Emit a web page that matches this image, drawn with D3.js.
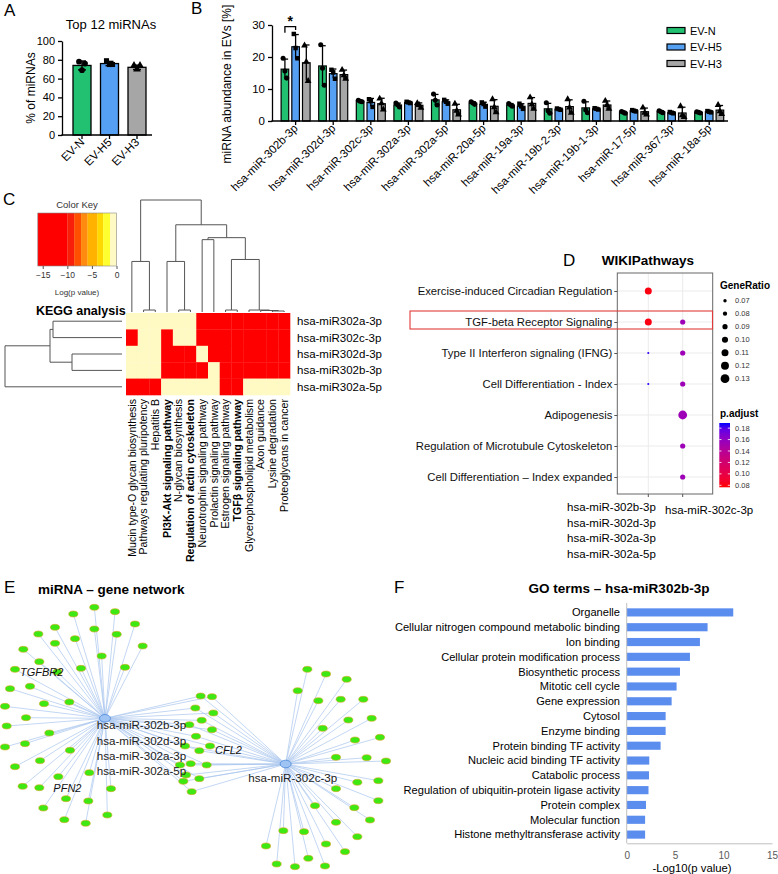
<!DOCTYPE html>
<html><head><meta charset="utf-8">
<script src="https://cdn.jsdelivr.net/npm/d3@7"></script>
<style>body{margin:0;background:#fff}svg{display:block}</style>
</head><body>
<script>
// ---------------- DATA ----------------
// Panel A
const groupsA = ["EV-N", "EV-H5", "EV-H3"];
const meansA = [74, 76, 72];
const pointsA = [[78, 69, 76], [79, 75, 75], [74, 70, 74]];
const yTicksA = [0, 20, 40, 60, 80, 100];

// Panel B
const mirnasB = ["hsa-miR-302b-3p","hsa-miR-302d-3p","hsa-miR-302c-3p","hsa-miR-302a-3p","hsa-miR-302a-5p","hsa-miR-20a-5p","hsa-miR-19a-3p","hsa-miR-19b-2-3p","hsa-miR-19b-1-3p","hsa-miR-17-5p","hsa-miR-367-3p","hsa-miR-18a-5p"];
const seriesB = ["EV-N", "EV-H5", "EV-H3"];
const meanN  = [16.2, 17.2, 6.2, 5.0, 6.6, 5.6, 5.0, 3.8, 4.1, 2.7, 2.9, 2.7];
const meanH5 = [23.2, 14.8, 5.8, 5.8, 6.0, 5.2, 4.6, 3.7, 3.8, 3.2, 2.6, 2.9];
const meanH3 = [18.2, 14.5, 5.4, 4.9, 3.5, 4.6, 5.5, 4.5, 5.0, 2.9, 2.5, 3.4];
const ptsN  = [[19.6,15.6,13.4],[23.8,16.5,11.2],[6.5,6.2,6.0],[5.6,5.0,4.4],[8.4,6.5,5.0],[6.0,5.6,5.2],[5.5,5.0,4.6],[5.7,3.2,2.4],[6.2,3.4,2.6],[3.0,2.7,2.4],[3.2,2.9,2.6],[2.9,2.7,2.5]];
const ptsH5 = [[27.2,22.8,19.6],[16.0,15.2,13.2],[6.8,6.2,4.4],[6.0,5.8,5.6],[6.6,6.0,5.4],[5.8,5.3,4.5],[5.4,4.6,3.8],[3.9,3.7,3.5],[4.0,3.8,3.6],[3.4,3.2,3.0],[2.8,2.6,2.4],[3.1,2.9,2.7]];
const ptsH3 = [[23.6,18.5,12.5],[16.0,14.3,13.2],[7.0,5.5,3.6],[5.6,5.0,4.1],[5.4,3.2,2.0],[6.8,4.3,2.7],[7.4,5.2,3.8],[6.8,4.2,2.6],[6.3,5.0,3.8],[4.2,2.6,2.0],[4.6,1.8,1.2],[5.0,3.0,2.2]];
const yTicksB = [0, 10, 20, 30];

// Panel C
const keggTerms = ["Mucin type-O glycan biosynthesis","Pathways regulating pluripotency","Hepatitis B","PI3K-Akt signaling pathway","N-glycan biosynthesis","Regulation of actin cytoskeleton","Neurotrophin signaling pathway","Prolactin signaling pathway","Estrogen signaling pathway","TGFβ signaling pathway","Glycerophospholipid metabolism","Axon guidance","Lysine degradation","Proteoglycans in cancer"];
const keggRows = ["hsa-miR302a-3p","hsa-miR302c-3p","hsa-miR302d-3p","hsa-miR302b-3p","hsa-miR302a-5p"];
const keggLogP = [
  [0,0,0,0,0,0,-14,-14,-14,-14,-14,-14,-14,-14],
  [-14,0,0,-14,0,0,-14,-14,-14,-14,-14,-14,-14,-14],
  [0,0,0,-14,-14,-14,0,-14,-14,-14,-14,-14,-14,-14],
  [0,0,0,-14,-14,-14,-14,0,-14,-14,-14,-14,-14,-14],
  [-14,-14,-14,0,0,0,0,0,-14,-14,0,0,0,0]
];
const keyBreaks = [-10, -8.6, -7.2, -5.9, -3.9, -2.7, -1.3];
const keyColors = ["#ff0000","#f8200a","#ff5000","#ff8a10","#ffb300","#ffd800","#ffff30","#fff9c4"];
const keyTicks = [-15, -10, -5, 0];
// dendrograms: [left child, right child, merge height]; leaves are 0..n-1, new nodes numbered after
const colMerges = [[1,2,2],[0,14,51],[4,5,2],[3,16,51],[8,9,2],[12,13,1],[11,19,1.5],[10,20,2],[18,21,53],[6,7,73],[23,22,75],[17,24,88],[15,25,113]];
const rowMerges = [[0,1,69],[2,3,50],[5,6,72],[7,4,117]];

// Panel D
const wikiPathways = ["Exercise-induced Circadian Regulation","TGF-beta Receptor Signaling","Type II Interferon signaling (IFNG)","Cell Differentiation - Index","Adipogenesis","Regulation of Microtubule Cytoskeleton","Cell Differentiation – Index expanded"];
const wikiGroups = ["hsa-miR-302b-3p|hsa-miR-302d-3p|hsa-miR-302a-3p|hsa-miR-302a-5p", "hsa-miR-302c-3p"];
const dotPath  = [0, 1, 1, 2, 2, 3, 3, 4, 5, 6];
const dotGroup = [0, 0, 1, 0, 1, 0, 1, 1, 1, 1];
const dotRatio = [0.11, 0.11, 0.09, 0.055, 0.09, 0.055, 0.09, 0.13, 0.09, 0.09];
const dotPadj  = [0.08, 0.08, 0.155, 0.186, 0.155, 0.186, 0.155, 0.155, 0.155, 0.155];
const ratioLegend = [0.07, 0.08, 0.09, 0.10, 0.11, 0.12, 0.13];
const padjTicks = [0.08, 0.10, 0.12, 0.14, 0.16, 0.18];

// Panel E (layout coordinates of the drawn network)
const netHubs = [
  {name:"hsa-miR-302b-3p|hsa-miR-302d-3p|hsa-miR-302a-3p|hsa-miR-302a-5p", x:315, y:385},
  {name:"hsa-miR-302c-3p", x:857, y:522}
];
const netGenes = [
  [283,52,"a"],[345,65,"a"],[220,72,"a"],[405,102,"a"],[283,117,"a"],[165,112,"a"],[350,133,"a"],[115,132,"a"],[225,146,"a"],[428,168,"a"],[165,160,"a"],[70,178,"a"],[305,198,"a"],[118,215,"a"],[375,232,"a"],[243,235,"a"],[45,238,"a"],[172,246,"a"],[30,296,"a"],[90,289,"a"],[208,336,"a"],[132,341,"a"],[15,349,"a"],[78,383,"a"],[20,408,"a"],[148,429,"a"],[75,461,"a"],[15,471,"a"],[210,481,"a"],[120,512,"a"],[45,530,"a"],[268,548,"a"],[175,560,"a"],[68,589,"a"],[118,593,"a"],[333,596,"a"],[198,626,"a"],[265,633,"a"],[130,654,"a"],[322,675,"a"],[193,689,"a"],[257,700,"a"],
  [602,318,"ab"],[636,320,"ab"],[586,354,"ab"],[640,369,"ab"],[605,391,"ab"],[568,404,"ab"],[636,419,"ab"],[588,439,"ab"],[555,468,"ab"],[630,468,"ab"],[598,482,"ab"],[540,525,"ab"],[572,521,"ab"],[620,525,"ab"],[558,555,"ab"],[598,566,"ab"],[550,574,"ab"],[575,605,"ab"],
  [922,238,"b"],[978,252,"b"],[1040,268,"b"],[893,302,"b"],[955,332,"b"],[1022,328,"b"],[1090,328,"b"],[1045,390,"b"],[1115,385,"b"],[968,415,"b"],[1140,442,"b"],[1065,450,"b"],[1008,502,"b"],[1100,503,"b"],[1158,513,"b"],[1072,577,"b"],[1135,572,"b"],[1008,596,"b"],[1135,632,"b"],[945,647,"b"],[1063,653,"b"],[1110,690,"b"],[1008,697,"b"],[850,722,"b"],[912,725,"b"],[1072,740,"b"],[978,762,"b"],[798,768,"b"],[1035,785,"b"],[925,805,"b"],[830,822,"b"],[885,830,"b"],[975,828,"b"]
];
const netGeneLabels = [{name:"TGFBR2", x:60, y:245},{name:"PFN2", x:160, y:595},{name:"CFL2", x:645, y:480}];

// Panel F
const goTerms = ["Organelle","Cellular nitrogen compound metabolic binding","Ion binding","Cellular protein modification process","Biosynthetic process","Mitotic cell cycle","Gene expression","Cytosol","Enzyme binding","Protein binding TF activity","Nucleic acid binding TF activity","Catabolic process","Regulation of ubiquitin-protein ligase activity","Protein complex","Molecular function","Histone methyltransferase activity"];
const goValues = [11.0, 8.35, 7.56, 6.53, 5.5, 5.15, 4.64, 4.02, 4.02, 3.5, 2.33, 2.3, 2.25, 1.99, 1.9, 1.9];
const goTicks = [0, 5, 10, 15];

// ---------------- DRAWING ----------------
const FONT = "'Liberation Sans', Arial, sans-serif";
const COLORS = ["#22c172", "#56a0f4", "#a6a6a6"];
const svg = d3.select("body").append("svg").attr("width", 778).attr("height", 874)
  .style("font-family", FONT);

function letter(t, x, y){ svg.append("text").attr("x",x).attr("y",y).attr("font-size",17).text(t); }
letter("A", 4, 16); letter("B", 191, 14); letter("C", 3, 205); letter("D", 563, 266); letter("E", 4, 593); letter("F", 394, 593);

function styleAxis(g, fs){
  g.selectAll("path,line").attr("stroke","#000").attr("stroke-width",1.3);
  g.selectAll("text").attr("font-size",fs).attr("fill","#000").attr("font-family",FONT);
}

// ----- Panel A -----
(function(){
  const g = svg.append("g");
  const x = d3.scalePoint().domain(groupsA).range([82, 137]);
  const y = d3.scaleLinear().domain([0, 100]).range([135, 41]);
  const bw = 18;
  g.append("text").attr("x", 111).attr("y", 29).attr("text-anchor","middle").attr("font-size",13).text("Top 12 miRNAs");
  g.selectAll("rect.bar").data(groupsA).join("rect")
    .attr("x", d => x(d) - bw/2).attr("y", (d,i) => y(meansA[i]))
    .attr("width", bw).attr("height", (d,i) => y(0) - y(meansA[i]))
    .attr("fill", (d,i) => COLORS[i]).attr("stroke", "#000").attr("stroke-width", 1.3);
  groupsA.forEach((d,i) => {
    const sd = d3.deviation(pointsA[i]);
    const cx = x(d);
    g.append("line").attr("x1",cx).attr("x2",cx).attr("y1",y(meansA[i]-sd)).attr("y2",y(meansA[i]+sd)).attr("stroke","#000").attr("stroke-width",1.4);
    g.append("line").attr("x1",cx-4).attr("x2",cx+4).attr("y1",y(meansA[i]+sd)).attr("y2",y(meansA[i]+sd)).attr("stroke","#000").attr("stroke-width",1.4);
    g.append("line").attr("x1",cx-4).attr("x2",cx+4).attr("y1",y(meansA[i]-sd)).attr("y2",y(meansA[i]-sd)).attr("stroke","#000").attr("stroke-width",1.4);
    const sym = [d3.symbolCircle, d3.symbolSquare, d3.symbolTriangle][i];
    pointsA[i].forEach((v,j) => {
      g.append("path").attr("d", d3.symbol().type(sym).size(26)())
        .attr("transform", `translate(${cx + (j-1)*3},${y(v)})`).attr("fill","#000");
    });
  });
  const ax = g.append("g").attr("transform","translate(62,0)")
    .call(d3.axisLeft(y).tickValues(yTicksA).tickSize(4).tickSizeOuter(0));
  styleAxis(ax, 11);
  g.append("line").attr("x1",61.4).attr("x2",152).attr("y1",y(0)).attr("y2",y(0)).attr("stroke","#000").attr("stroke-width",1.3);
  groupsA.forEach(d => {
    g.append("line").attr("x1",x(d)).attr("x2",x(d)).attr("y1",y(0)).attr("y2",y(0)+4).attr("stroke","#000").attr("stroke-width",1.3);
    g.append("text").attr("transform",`translate(${x(d)+3},${y(0)+8}) rotate(-45)`).attr("text-anchor","end")
      .attr("font-size",11.5).text(d);
  });
  g.append("text").attr("transform","translate(35,88) rotate(-90)").attr("text-anchor","middle").attr("font-size",12).text("% of miRNAs");
})();

// ----- Panel B -----
(function(){
  const g = svg.append("g");
  const x = d3.scaleBand().domain(mirnasB).range([272, 728]).paddingOuter(0.064).align(1);
  const sub = d3.scalePoint().domain(seriesB).range([-10.7, 10.7]);
  const y = d3.scaleLinear().domain([0, 30]).range([121, 25]);
  const bw = 7.6;
  const means = [meanN, meanH5, meanH3], pts = [ptsN, ptsH5, ptsH3];
  const syms = [d3.symbolCircle, d3.symbolSquare, d3.symbolTriangle];
  seriesB.forEach((s, k) => {
    mirnasB.forEach((m, i) => {
      const cx = x(m) + x.bandwidth()/2 + sub(s);
      const mv = means[k][i];
      g.append("rect").attr("x", cx - bw/2).attr("y", y(mv)).attr("width", bw).attr("height", y(0) - y(mv))
        .attr("fill", COLORS[k]).attr("stroke","#000").attr("stroke-width",1.2);
    });
  });
  seriesB.forEach((s, k) => {
    mirnasB.forEach((m, i) => {
      const cx = x(m) + x.bandwidth()/2 + sub(s);
      const mv = means[k][i];
      const sd = d3.deviation(pts[k][i]);
      g.append("line").attr("x1",cx).attr("x2",cx).attr("y1",y(Math.max(0,mv-sd))).attr("y2",y(mv+sd)).attr("stroke","#000").attr("stroke-width",1.3);
      g.append("line").attr("x1",cx-3.2).attr("x2",cx+3.2).attr("y1",y(mv+sd)).attr("y2",y(mv+sd)).attr("stroke","#000").attr("stroke-width",1.3);
      pts[k][i].forEach((v, j) => {
        g.append("path").attr("d", d3.symbol().type(syms[k]).size(20)())
          .attr("transform", `translate(${cx + (j-1)*1.8},${y(v)})`).attr("fill","#000");
      });
    });
  });
  const ax = g.append("g").attr("transform","translate(272,0)")
    .call(d3.axisLeft(y).tickValues(yTicksB).tickSize(4).tickSizeOuter(0));
  styleAxis(ax, 11.5);
  g.append("line").attr("x1",271.4).attr("x2",728).attr("y1",y(0)).attr("y2",y(0)).attr("stroke","#000").attr("stroke-width",1.3);
  mirnasB.forEach(m => {
    const cx = x(m) + x.bandwidth()/2;
    g.append("line").attr("x1",cx).attr("x2",cx).attr("y1",y(0)).attr("y2",y(0)+4).attr("stroke","#000").attr("stroke-width",1.3);
    g.append("text").attr("transform",`translate(${cx+3},${y(0)+8}) rotate(-45)`).attr("text-anchor","end")
      .attr("font-size",11.5).text(m);
  });
  g.append("text").attr("transform","translate(231,84) rotate(-90)").attr("text-anchor","middle").attr("font-size",12).text("miRNA abundance in EVs [%]");
  // significance bracket
  const c0 = x(mirnasB[0]) + x.bandwidth()/2;
  const xa = c0 + sub("EV-N"), xb = c0 + sub("EV-H5");
  g.append("path").attr("d", `M${xa},${y(27.6)}V${y(29.5)}H${xb}V${y(28.4)}`).attr("fill","none").attr("stroke","#000").attr("stroke-width",1.3);
  g.append("text").attr("x",(xa+xb)/2).attr("y",y(29.5)-1).attr("text-anchor","middle").attr("font-size",14).attr("font-weight","bold").text("*");
  // legend
  seriesB.forEach((s,k) => {
    const ly = 27.5 + k*16.5;
    g.append("rect").attr("x",667).attr("y",ly).attr("width",18).attr("height",6).attr("fill",COLORS[k]).attr("stroke","#000").attr("stroke-width",1.2);
    g.append("text").attr("x",690).attr("y",ly+7).attr("font-size",11).text(s);
  });
})();

// ----- Panel C -----
(function(){
  const g = svg.append("g");
  const x = d3.scaleBand().domain(keggTerms).range([126, 290]);
  const y = d3.scaleBand().domain(keggRows).range([313, 395]);
  const color = d3.scaleThreshold().domain(keyBreaks).range(keyColors);
  keggRows.forEach((r, i) => {
    keggTerms.forEach((t, j) => {
      g.append("rect").attr("x", x(t)).attr("y", y(r)).attr("width", x.bandwidth()+0.3).attr("height", y.bandwidth()+0.3)
        .attr("fill", color(keggLogP[i][j]));
    });
    g.append("text").attr("x", 297).attr("y", y(r) + y.bandwidth()/2).attr("dy","0.35em").attr("font-size",11.5).text(r);
  });
  const boldTerms = new Set(["PI3K-Akt signaling pathway","Regulation of actin cytoskeleton","TGFβ signaling pathway"]);
  keggTerms.forEach(t => {
    g.append("text").attr("transform", `translate(${x(t)+x.bandwidth()/2},399) rotate(-90)`)
      .attr("text-anchor","end").attr("dy","0.35em").attr("font-size",10.6)
      .attr("font-weight", boldTerms.has(t) ? "bold" : "normal").text(t);
  });
  // column dendrogram
  const colX = d3.scaleLinear().domain([0, keggTerms.length-1]).range([x(keggTerms[0])+x.bandwidth()/2, x(keggTerms[keggTerms.length-1])+x.bandwidth()/2]);
  const colH = d3.scaleLinear().domain([0, 113]).range([312, 200]);
  const cpos = keggTerms.map((d,i) => ({p:i, h:0}));
  colMerges.forEach(([a,b,h]) => {
    const A = cpos[a], B = cpos[b];
    g.append("path").attr("d", `M${colX(A.p)},${colH(A.h)}V${colH(h)}H${colX(B.p)}V${colH(B.h)}`)
      .attr("fill","none").attr("stroke","#555").attr("stroke-width",1);
    cpos.push({p:(A.p+B.p)/2, h});
  });
  // row dendrogram
  const rowY = d3.scaleLinear().domain([0, keggRows.length-1]).range([y(keggRows[0])+y.bandwidth()/2, y(keggRows[keggRows.length-1])+y.bandwidth()/2]);
  const rowH = d3.scaleLinear().domain([0, 117]).range([122, 5]);
  const rpos = keggRows.map((d,i) => ({p:i, h:0}));
  rowMerges.forEach(([a,b,h]) => {
    const A = rpos[a], B = rpos[b];
    g.append("path").attr("d", `M${rowH(A.h)},${rowY(A.p)}H${rowH(h)}V${rowY(B.p)}H${rowH(B.h)}`)
      .attr("fill","none").attr("stroke","#555").attr("stroke-width",1);
    rpos.push({p:(A.p+B.p)/2, h});
  });
  // color key
  const kx = d3.scaleLinear().domain([-16, 0]).range([37.8, 116.5]);
  const edges = [-16, ...keyBreaks, 0];
  keyColors.forEach((c, i) => {
    g.append("rect").attr("x", kx(edges[i])).attr("y", 213).attr("width", kx(edges[i+1]) - kx(edges[i]) + 0.2).attr("height", 53).attr("fill", c);
  });
  g.append("rect").attr("x",kx(-16)).attr("y",213).attr("width",kx(0)-kx(-16)).attr("height",53).attr("fill","none").attr("stroke","#888").attr("stroke-width",0.6);
  const kax = g.append("g").attr("transform","translate(0,266)").call(d3.axisBottom(kx).tickValues(keyTicks).tickSize(3).tickSizeOuter(0));
  kax.select(".domain").remove();
  kax.selectAll("line").attr("stroke","#555");
  kax.selectAll("text").attr("font-size",8.5).attr("fill","#333").attr("font-family",FONT);
  g.append("text").attr("x",77).attr("y",208).attr("text-anchor","middle").attr("font-size",9.5).attr("fill","#333").text("Color Key");
  g.append("text").attr("x",77).attr("y",295).attr("text-anchor","middle").attr("font-size",8).attr("fill","#333").text("Log(p value)");
  g.append("text").attr("x",36).attr("y",315).attr("font-size",12.5).attr("font-weight","bold").text("KEGG analysis");
})();

// ----- Panel D -----
(function(){
  const g = svg.append("g");
  const y = d3.scalePoint().domain(wikiPathways).range([291, 477]);
  const x = d3.scalePoint().domain(wikiGroups).range([648.3, 682.7]);
  const r = d3.scaleLinear().domain([0.07, 0.13]).range([1.7, 4.4]);
  const col = d3.scaleLinear().domain([0.0765, 0.189]).range(["#ff0000", "#0000ff"]).interpolate(d3.interpolateLab);
  const px0 = 617.3, px1 = 712.7, py0 = 273, py1 = 494;
  g.append("text").attr("x",648).attr("y",265).attr("text-anchor","middle").attr("font-size",13.5).attr("font-weight","bold").text("WIKIPathways");
  g.append("rect").attr("x",px0).attr("y",py0).attr("width",px1-px0).attr("height",py1-py0).attr("fill","#fff");
  wikiPathways.forEach(p => g.append("line").attr("x1",px0).attr("x2",px1).attr("y1",y(p)).attr("y2",y(p)).attr("stroke","#ebebeb").attr("stroke-width",1));
  wikiGroups.forEach(c => g.append("line").attr("x1",x(c)).attr("x2",x(c)).attr("y1",py0).attr("y2",py1).attr("stroke","#ebebeb").attr("stroke-width",1));
  g.append("rect").attr("x",px0).attr("y",py0).attr("width",px1-px0).attr("height",py1-py0).attr("fill","none").attr("stroke","#666").attr("stroke-width",1);
  dotPath.forEach((pi, i) => {
    g.append("circle").attr("cx", x(wikiGroups[dotGroup[i]])).attr("cy", y(wikiPathways[pi]))
      .attr("r", r(dotRatio[i])).attr("fill", col(dotPadj[i]));
  });
  const ay = g.append("g").attr("transform",`translate(${px0},0)`).call(d3.axisLeft(y).tickSize(3).tickPadding(2));
  ay.select(".domain").remove();
  ay.selectAll("line").attr("stroke","#555");
  ay.selectAll("text").attr("font-size",11.3).attr("fill","#111").attr("font-family",FONT);
  wikiGroups.forEach(c => g.append("line").attr("x1",x(c)).attr("x2",x(c)).attr("y1",py1).attr("y2",py1+3).attr("stroke","#555"));
  // x labels (multi-line)
  const lab1 = wikiGroups[0].split("|");
  lab1.forEach((t,i) => g.append("text").attr("x",567).attr("y",511+i*15.5).attr("font-size",11.5).text(t));
  g.append("text").attr("x",665).attr("y",514).attr("font-size",11.5).text(wikiGroups[1]);
  // red highlight
  const ty = y(wikiPathways[1]);
  g.append("rect").attr("x",410).attr("y",ty-11).attr("width",302.5).attr("height",18).attr("fill","none").attr("stroke","#e03a3a").attr("stroke-width",1.1);
  // GeneRatio legend
  g.append("text").attr("x",720).attr("y",289).attr("font-size",10).attr("font-weight","bold").text("GeneRatio");
  const ly = d3.scalePoint().domain(ratioLegend).range([300.7, 378.7]);
  ratioLegend.forEach(v => {
    g.append("circle").attr("cx",725).attr("cy",ly(v)).attr("r",r(v)).attr("fill","#000");
    g.append("text").attr("x",735).attr("y",ly(v)).attr("dy","0.35em").attr("font-size",7.5).attr("fill","#333").text(v.toFixed(2));
  });
  // p.adjust legend
  g.append("text").attr("x",720).attr("y",417).attr("font-size",10).attr("font-weight","bold").text("p.adjust");
  const by = d3.scaleLinear().domain([0.0765, 0.189]).range([487.3, 423]);
  const grad = svg.append("defs").append("linearGradient").attr("id","padjGrad").attr("x1",0).attr("x2",0).attr("y1",1).attr("y2",0);
  d3.range(0, 1.0001, 0.1).forEach(t => grad.append("stop").attr("offset", t).attr("stop-color", col(0.0765 + t*(0.189-0.0765))));
  g.append("rect").attr("x",719.3).attr("y",423).attr("width",10.7).attr("height",64.3).attr("fill","url(#padjGrad)");
  padjTicks.forEach(v => {
    g.append("line").attr("x1",719.3).attr("x2",721.5).attr("y1",by(v)).attr("y2",by(v)).attr("stroke","#fff").attr("stroke-width",0.8);
    g.append("line").attr("x1",727.8).attr("x2",730).attr("y1",by(v)).attr("y2",by(v)).attr("stroke","#fff").attr("stroke-width",0.8);
    g.append("text").attr("x",735).attr("y",by(v)).attr("dy","0.35em").attr("font-size",7.5).attr("fill","#333").text(v.toFixed(2));
  });
})();

// ----- Panel E -----
(function(){
  const g = svg.append("g");
  const x = d3.scaleLinear().domain([0, 1170]).range([0, 390]);
  const y = d3.scaleLinear().domain([0, 855]).range([590, 875]);
  g.append("text").attr("x",38).attr("y",594).attr("font-size",13.5).attr("font-weight","bold").text("miRNA – gene network");
  const hubs = netHubs;
  netGenes.forEach(([gx, gy, h]) => {
    const targets = h === "ab" ? [0,1] : (h === "a" ? [0] : [1]);
    targets.forEach(t => g.append("line").attr("x1",x(hubs[t].x)).attr("y1",y(hubs[t].y)).attr("x2",x(gx)).attr("y2",y(gy))
      .attr("stroke","#a9c5ee").attr("stroke-width",0.7));
  });
  netGenes.forEach(([gx, gy]) => {
    g.append("ellipse").attr("cx",x(gx)).attr("cy",y(gy)).attr("rx",4.6).attr("ry",3)
      .attr("fill","#3ee812").attr("stroke","#d9a520").attr("stroke-width",0.6);
  });
  hubs.forEach(hb => g.append("ellipse").attr("cx",x(hb.x)).attr("cy",y(hb.y)).attr("rx",5.5).attr("ry",3.8)
    .attr("fill","#9fc4f4").attr("stroke","#4a86d8").attr("stroke-width",0.8));
  hubs[0].name.split("|").forEach((t,i) => g.append("text").attr("x",96.7).attr("y",y(hubs[0].y)+11+i*15.3).attr("font-size",11.6).attr("fill","#222").text(t));
  g.append("text").attr("x",248.3).attr("y",y(hubs[1].y)+18).attr("font-size",11.6).attr("fill","#222").text(hubs[1].name);
  netGeneLabels.forEach(l => g.append("text").attr("x",x(l.x)).attr("y",y(l.y)).attr("dy","0.35em").attr("font-size",11).attr("font-style","italic").attr("fill","#111").text(l.name));
})();

// ----- Panel F -----
(function(){
  const g = svg.append("g");
  const x = d3.scaleLinear().domain([0, 15]).range([626.7, 772]);
  const y = d3.scaleBand().domain(goTerms).range([605, 842]).paddingInner(0.45).paddingOuter(0.225);
  g.append("text").attr("x",619).attr("y",593).attr("text-anchor","middle").attr("font-size",13.5).attr("font-weight","bold").text("GO terms – hsa-miR302b-3p");
  g.selectAll("rect.go").data(goTerms).join("rect").attr("x", x(0)).attr("y", d => y(d))
    .attr("width", (d,i) => x(goValues[i]) - x(0)).attr("height", y.bandwidth()).attr("fill","#5b8def");
  goTerms.forEach(t => g.append("text").attr("x",620).attr("y",y(t)+y.bandwidth()/2).attr("dy","0.35em").attr("text-anchor","end").attr("font-size",11.1).text(t));
  g.append("line").attr("x1",x(0)).attr("x2",x(0)).attr("y1",603).attr("y2",843.3).attr("stroke","#bfbfbf").attr("stroke-width",1);
  const ax = g.append("g").attr("transform","translate(0,843.3)").call(d3.axisBottom(x).tickValues(goTicks).tickSize(0).tickPadding(9));
  ax.select(".domain").attr("stroke","#bfbfbf");
  ax.selectAll("text").attr("font-size",10).attr("fill","#595959").attr("font-family",FONT);
  g.append("text").attr("x",692).attr("y",872).attr("text-anchor","middle").attr("font-size",11.3).text("-Log10(p value)");
})();
</script>
</body></html>
